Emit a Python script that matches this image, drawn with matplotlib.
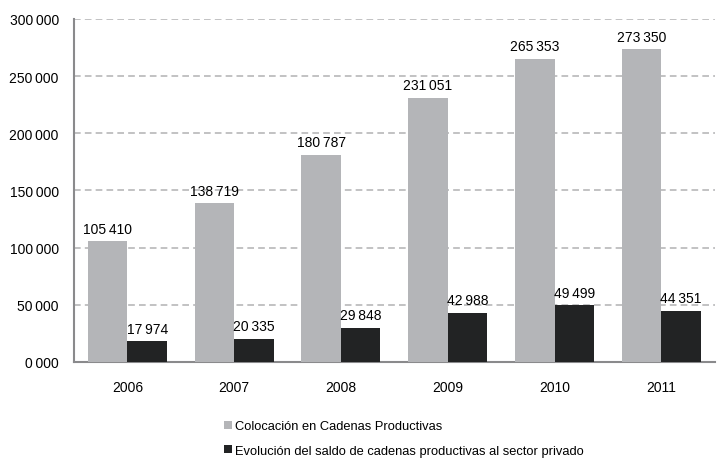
import matplotlib
matplotlib.use("Agg")
import matplotlib.pyplot as plt
import numpy as np
from matplotlib.patches import Patch

years = ["2006", "2007", "2008", "2009", "2010", "2011"]
colocacion = [105410, 138719, 180787, 231051, 265353, 273350]
saldo = [17974, 20335, 29848, 42988, 49499, 44351]
y_ticks = [0, 50000, 100000, 150000, 200000, 250000, 300000]
series_names = ["Colocación en Cadenas Productivas",
                "Evolución del saldo de cadenas productivas al sector privado"]

plt.rcParams["font.family"] = ["Liberation Sans", "DejaVu Sans"]
plt.rcParams["font.size"] = 9

SEP = "\u2009"

def fmt(v):
    return f"{int(v):,}".replace(",", SEP)

def tick_fmt(v):
    return f"{int(v) // 1000}{SEP}000"

fig = plt.figure(figsize=(7.19, 4.64), dpi=100)
ax = fig.add_axes([0.103, 0.218, 0.891, 0.739])

x = np.arange(len(years))
w = 0.37
gray = "#b4b5b8"
dark = "#222324"
ax.bar(x - w / 2, colocacion, w, color=gray, zorder=3)
ax.bar(x + w / 2, saldo, w, color=dark, zorder=3)

for xi, v in zip(x, colocacion):
    ax.text(xi - w / 2, v + 5000, fmt(v), ha="center", va="bottom", fontsize=10)
for xi, v in zip(x, saldo):
    ax.text(xi + w / 2, v + 5000, fmt(v), ha="center", va="bottom", fontsize=10)

ax.set_xlim(-0.5, len(years) - 0.5)
ax.set_ylim(0, 300000)
ax.set_yticks(y_ticks)
ax.set_yticklabels([tick_fmt(v) for v in y_ticks], fontsize=10)
ax.set_xticks(x)
ax.set_xticklabels(years, fontsize=10)
ax.tick_params(length=0)
ax.tick_params(axis="x", pad=13)
ax.tick_params(axis="y", pad=11)

ax.yaxis.grid(True, color="#b7b7b9", linestyle=(0, (4, 2.5)), linewidth=1.2, zorder=0)
ax.set_axisbelow(True)
for s in ["top", "right"]:
    ax.spines[s].set_visible(False)
for s in ["left", "bottom"]:
    ax.spines[s].set_color("#8a8a8c")
    ax.spines[s].set_linewidth(1.5)

handles = [Patch(facecolor=gray), Patch(facecolor=dark)]
fig.legend(handles, series_names, loc="upper left", bbox_to_anchor=(0.303, 0.106),
           frameon=False, ncol=1, fontsize=9.3, handlelength=0.6, handleheight=0.6,
           handletextpad=0.2, labelspacing=0.95, borderpad=0)

fig.savefig("out.png", dpi=100)
